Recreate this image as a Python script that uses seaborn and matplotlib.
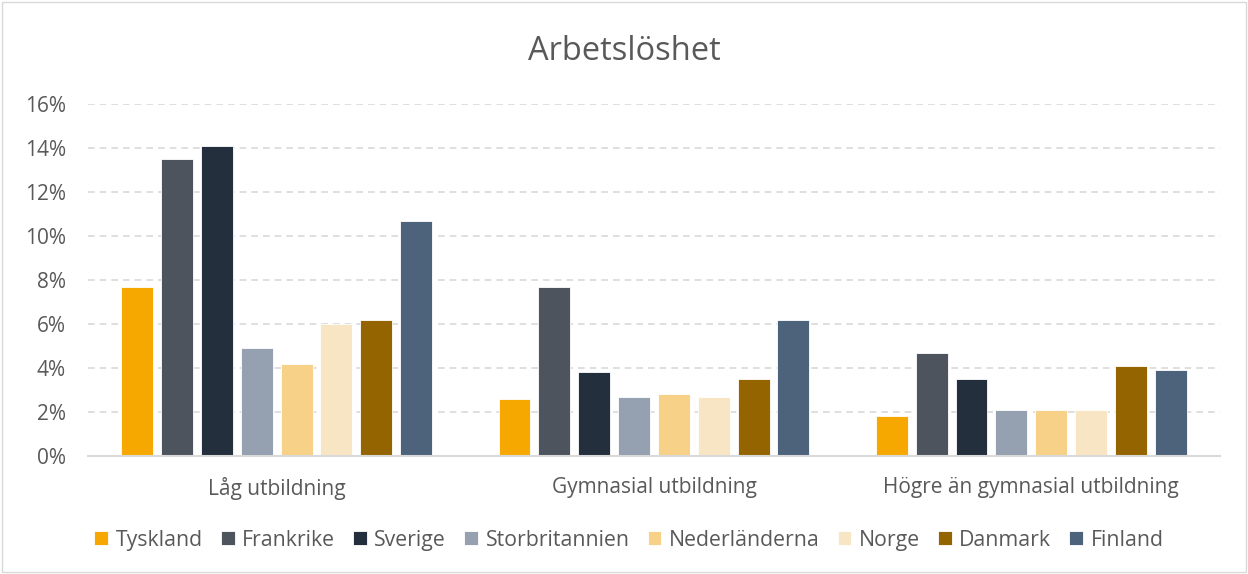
import matplotlib.pyplot as plt
import matplotlib.ticker as mticker
import pandas as pd
import seaborn as sns
from matplotlib.patches import Rectangle

# Arbetslöshet per utbildningsnivå (andel)
levels = ["Låg utbildning", "Gymnasial utbildning", "Högre än gymnasial utbildning"]
countries = ["Tyskland", "Frankrike", "Sverige", "Storbritannien",
             "Nederländerna", "Norge", "Danmark", "Finland"]
colors = ["#F6A800", "#4D545E", "#232F3C", "#95A0B0",
          "#F7D188", "#F8E5C3", "#946400", "#4C637B"]

tyskland = [0.077, 0.026, 0.018]
frankrike = [0.135, 0.077, 0.047]
sverige = [0.141, 0.038, 0.035]
storbritannien = [0.049, 0.027, 0.021]
nederlanderna = [0.042, 0.028, 0.021]
norge = [0.060, 0.027, 0.021]
danmark = [0.062, 0.035, 0.041]
finland = [0.107, 0.062, 0.039]

series = [tyskland, frankrike, sverige, storbritannien,
          nederlanderna, norge, danmark, finland]

rows = []
for country, vals in zip(countries, series):
    for level, v in zip(levels, vals):
        rows.append({"Nivå": level, "Land": country, "Andel": v})
df = pd.DataFrame(rows)

sns.set_theme(style="white")
plt.rcParams["font.family"] = ["Open Sans", "DejaVu Sans"]
text_color = "#595959"

fig = plt.figure(figsize=(12.48, 5.74), dpi=100)
ax = fig.add_axes([0.0705, 0.2056, 0.907, 0.6132])

sns.barplot(
    data=df,
    x="Nivå",
    y="Andel",
    hue="Land",
    order=levels,
    hue_order=countries,
    palette=colors,
    saturation=1,
    width=0.845,
    gap=0.2,
    edgecolor="white",
    linewidth=0.6,
    ax=ax,
)

ax.set_ylim(0, 0.16)
ax.set_yticks([i * 0.02 for i in range(9)])
ax.yaxis.set_major_formatter(mticker.PercentFormatter(1.0, decimals=0))
ax.set_xlim(-0.5, 2.5)
ax.grid(axis="y", color="#D9D9D9", linestyle=(0, (4, 3)), linewidth=1.2)
ax.set_axisbelow(True)
for side in ["top", "right", "left"]:
    ax.spines[side].set_visible(False)
ax.spines["bottom"].set_color("#D9D9D9")
ax.spines["bottom"].set_linewidth(1.5)
ax.tick_params(axis="x", length=0, labelsize=15, colors=text_color, pad=15)
ax.tick_params(axis="y", length=0, labelsize=15, colors=text_color, pad=16)
ax.set_xlabel("")
ax.set_ylabel("")

fig.text(0.5, 0.91, "Arbetslöshet", ha="center", va="center",
         fontsize=23.5, color=text_color)

handles, labels = ax.get_legend_handles_labels()
ax.legend(handles, labels, loc="center", bbox_to_anchor=(0.504, 0.059),
          bbox_transform=fig.transFigure, ncol=8, frameon=False,
          fontsize=15.3, handlelength=0.65, handleheight=0.65,
          handletextpad=0.35, columnspacing=0.85, labelcolor=text_color)

fig.patches.append(Rectangle((0.002, 0.003), 0.996, 0.994, transform=fig.transFigure,
                             fill=False, edgecolor="#D9D9D9", linewidth=1))

fig.savefig("out.png", dpi=100)
plt.close(fig)
